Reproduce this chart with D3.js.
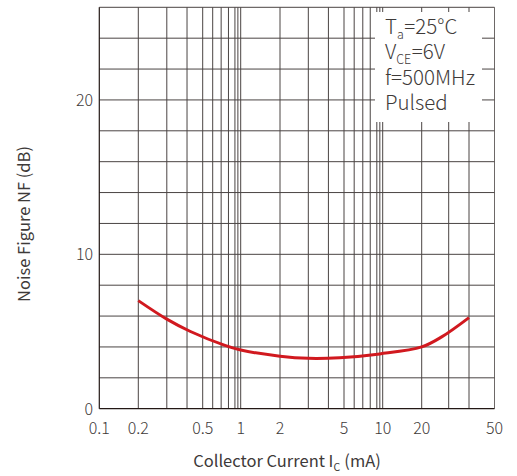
<!DOCTYPE html>
<html>
<head>
<meta charset="utf-8">
<script src="https://cdn.jsdelivr.net/npm/d3@7"></script>
<style>
  html, body { margin: 0; padding: 0; background: #fff; }
  svg { display: block; }
  text { font-family: "Noto Sans CJK SC", "Noto Sans", sans-serif; fill: #3e3a39; }
</style>
</head>
<body>
<svg id="chart" width="517" height="476"></svg>
<script>
// ---- data ----
const currentData = [0.2, 0.3, 0.42, 0.75, 1, 2, 3, 4.7, 9.5, 20, 27, 40];   // Ic (mA)
const nfData      = [7.0, 5.8, 5.0, 4.1, 3.8, 3.4, 3.26, 3.3, 3.55, 4.0, 4.65, 5.9]; // NF (dB)

const xTickLabels = [0.1, 0.2, 0.5, 1, 2, 5, 10, 20, 50];
const xGridValues = [0.2, 0.3, 0.4, 0.5, 0.6, 0.7, 0.8, 0.9, 0.95, 1,
                     2, 3, 4, 5, 6, 7, 8, 9, 9.5, 10, 20, 30, 40];
const yTickLabels = [0, 10, 20];
const yGridValues = [2, 4, 6, 8, 10, 12, 14, 16, 18, 20, 22, 24, 26];
const legendLines = ["T|a|=25°C", "V|CE|=6V", "f=500MHz", "Pulsed"];
const xTitle = "Collector Current I|C| (mA)";
const yTitle = "Noise Figure NF (dB)";

// ---- layout ----
const svg = d3.select("#chart");
const pLeft = 99.3, pRight = 494.5, pTop = 7.3, pBottom = 408.7;

// piecewise log scale following the drawn grid of the original
const x = d3.scaleLog()
  .domain([0.1, 0.2, 0.5, 1, 2, 5, 10, 20, 30, 40, 50])
  .range([pLeft, 138.3, 202.7, 240.7, 280, 344, 382.7, 421.7, 448.7, 469, pRight]);
const y = d3.scaleLinear().domain([0, 26]).range([pBottom, pTop]);

const gridColor = "#4a4443";

// vertical grid
svg.append("g").selectAll("line").data(xGridValues).join("line")
  .attr("x1", d => x(d)).attr("x2", d => x(d))
  .attr("y1", pTop).attr("y2", pBottom)
  .attr("stroke", gridColor).attr("stroke-width", 1);
// right border
svg.append("line").attr("x1", pRight).attr("x2", pRight).attr("y1", pTop).attr("y2", pBottom)
  .attr("stroke", "#6d6867").attr("stroke-width", 1);

// horizontal grid
svg.append("g").selectAll("line").data(yGridValues).join("line")
  .attr("x1", pLeft).attr("x2", pRight)
  .attr("y1", d => y(d)).attr("y2", d => y(d))
  .attr("stroke", gridColor).attr("stroke-width", 1);

// axes frame (left and bottom)
svg.append("line").attr("x1", pLeft).attr("x2", pLeft).attr("y1", pTop).attr("y2", pBottom)
  .attr("stroke", "#231815").attr("stroke-width", 1.2);
svg.append("line").attr("x1", pLeft).attr("x2", pRight).attr("y1", pBottom).attr("y2", pBottom)
  .attr("stroke", "#231815").attr("stroke-width", 1.2);

// legend box (white block over the grid)
svg.append("rect").attr("x", 375).attr("y", 12).attr("width", 107).attr("height", 110)
  .attr("fill", "#fff");

// text with subscript, drawn as separate text elements placed side by side
function subText(g, s, x0, y0, size, subSize, subDy, weight, anchorCenter) {
  const parts = s.split("|");
  const grp = g.append("g");
  let cx = 0;
  parts.forEach((p, i) => {
    const isSub = i % 2 === 1;
    const t = grp.append("text").attr("x", cx).attr("y", isSub ? subDy : 0)
      .attr("font-size", isSub ? subSize : size).attr("font-weight", weight)
      .attr("xml:space", "preserve").style("white-space", "pre")
      .text(p);
    cx += t.node().getComputedTextLength() + (isSub ? 0.5 : 0);
  });
  const dx = anchorCenter ? x0 - cx / 2 : x0;
  grp.attr("transform", `translate(${dx},${y0})`);
  return grp;
}

const leg = svg.append("g");
legendLines.forEach((s, i) => {
  subText(leg, s, 385, 34 + i * 25.3, 20.5, 12.5, 5, 300, false);
});

// curve
const pts = currentData.map((c, i) => [c, nfData[i]]);
const line = d3.line().x(d => x(d[0])).y(d => y(d[1])).curve(d3.curveCatmullRom.alpha(0.5));
svg.append("path").datum(pts).attr("d", line)
  .attr("fill", "none").attr("stroke", "#d1191f").attr("stroke-width", 3)
  .attr("stroke-linecap", "butt");

// x tick labels
svg.append("g").selectAll("text").data(xTickLabels).join("text")
  .attr("x", d => x(d)).attr("y", 433.5)
  .attr("text-anchor", "middle").attr("font-size", 16).attr("font-weight", 300)
  .text(d => d);

// y tick labels
svg.append("g").selectAll("text").data(yTickLabels).join("text")
  .attr("x", 93).attr("y", d => y(d) + 6)
  .attr("text-anchor", "end").attr("font-size", 16).attr("font-weight", 300)
  .text(d => d);

// x axis title
subText(svg, xTitle, 287, 467, 16.5, 10.5, 4, 400, true);

// y axis title
svg.append("text")
  .attr("transform", "translate(30,224) rotate(-90)")
  .attr("text-anchor", "middle").attr("font-size", 16.5).attr("font-weight", 400)
  .text(yTitle);
</script>
</body>
</html>
